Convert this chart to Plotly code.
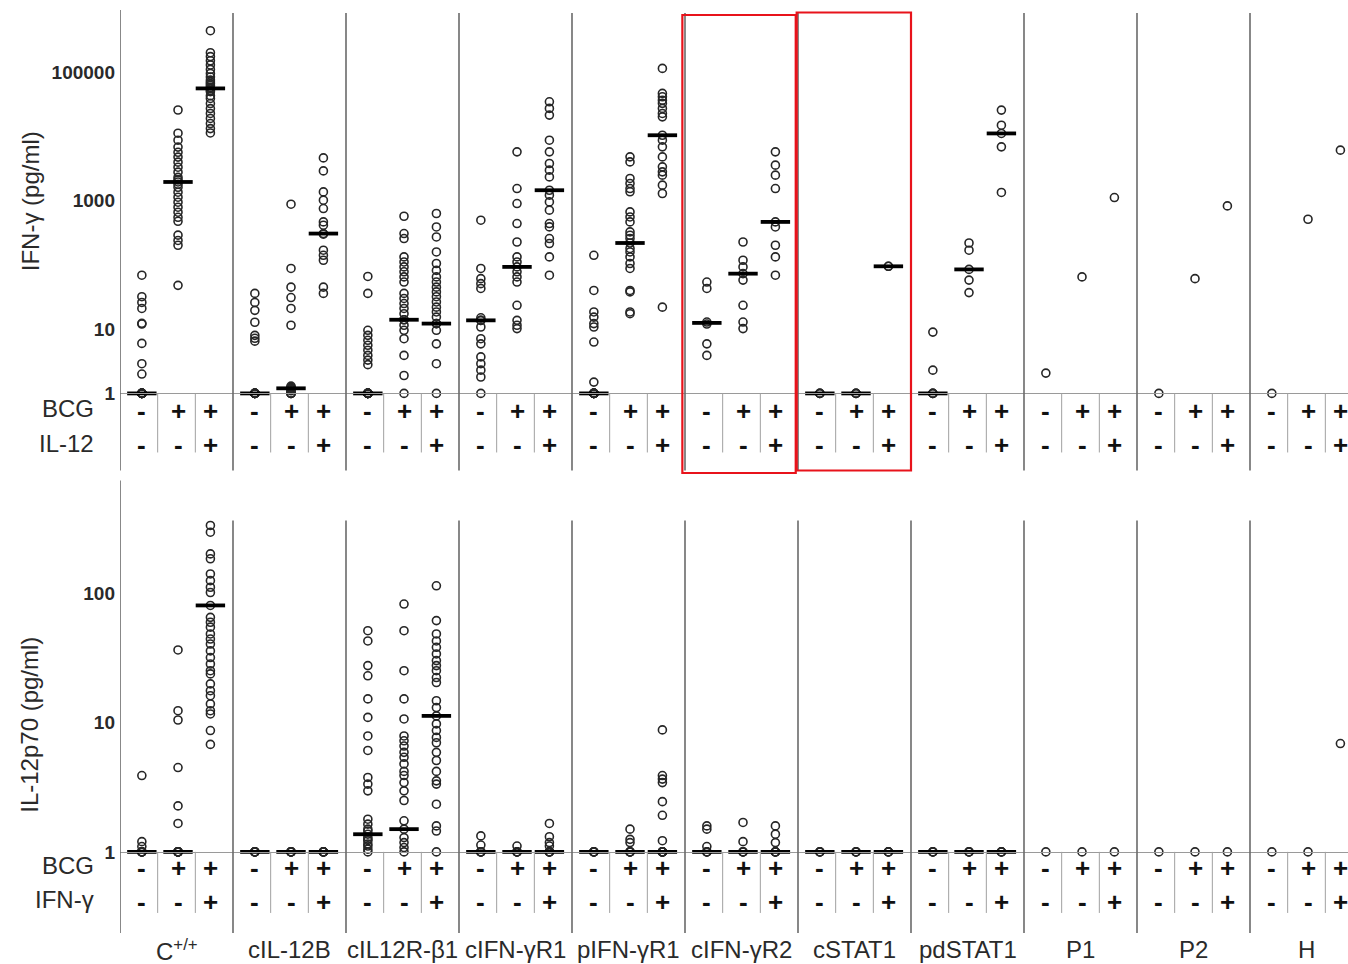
import plotly.graph_objects as go

# ---------------- data ----------------
GROUPS = ["C<sup>+/+</sup>", "cIL-12B", "cIL12R-β1", "cIFN-γR1", "pIFN-γR1",
          "cIFN-γR2", "cSTAT1", "pdSTAT1", "P1", "P2", "H"]
BCG_SIGNS = ["-", "+", "+"]
COSTIM_SIGNS = ["-", "-", "+"]

# IFN-gamma (pg/ml); per group: [unstimulated, BCG, BCG + IL-12]
ifng_cwt = [[69, 32, 26, 21, 12.3, 12, 6.0, 2.9, 2.0, 1, 1, 1, 1, 1, 1, 1, 1, 1, 1],
            [25700, 11200, 8700, 6800, 5650, 4750, 3970, 3310, 2770, 2300, 2100, 1950, 1800,
             1610, 1350, 1130, 944, 790, 660, 550, 477, 290, 240, 202, 48],
            [440000, 200000, 174000, 150000, 129000, 110000, 95000, 84000, 75000, 70000, 66000,
             62000, 58000, 55700, 52000, 49500, 43000, 38900, 32400, 27000, 22700, 19000, 15800,
             13200, 11300]]
ifng_cil12b = [[36, 26, 19.6, 12.8, 8, 7.2, 6.5, 1, 1, 1, 1, 1, 1, 1, 1],
               [880, 88, 45, 31, 21, 11.5, 1.3, 1.25, 1.2, 1.2, 1.15, 1.1, 1, 1, 1, 1],
               [4620, 2900, 1365, 1015, 753, 466, 414, 307, 300, 169, 141, 118, 45, 36]]
ifng_cil12rb1 = [[66, 36, 9.6, 8.0, 6.7, 5.6, 4.7, 3.9, 3.3, 2.8, 1, 1, 1, 1, 1, 1, 1, 1, 1, 1, 1],
                 [571, 307, 257, 133, 111, 93, 78, 65, 54, 36, 30, 25, 21, 17.4, 14, 14, 11.5,
                  9.6, 7.1, 3.9, 1.9, 1],
                 [630, 389, 272, 159, 105, 82, 65, 54, 45, 38, 32, 26.5, 22, 18.5, 15.4, 12.2,
                  12.2, 9.6, 5.9, 2.9, 1]]
ifng_cifngr1 = [[495, 88, 61, 51, 43, 15, 13.7, 13.7, 10.8, 7.1, 5.9, 3.7, 2.9, 2.3, 1.8, 1],
                [5740, 1540, 900, 440, 227, 133, 111, 93, 78, 65, 54, 23.5, 13.7, 11.5, 10.2],
                [34500, 27200, 21400, 8700, 5740, 3780, 2980, 2340, 1450, 1213, 955, 710, 440,
                 390, 257, 215, 133, 69]]
ifng_pifngr1 = [[141, 40, 18.5, 15.4, 12.2, 10.8, 6.3, 1.5, 1, 1, 1, 1, 1, 1, 1, 1, 1],
                [4800, 4000, 2210, 1845, 1540, 1370, 667, 557, 466, 326, 289, 257, 219, 180,
                 159, 133, 105, 88, 40, 38, 18.5, 17.4],
                [114000, 46600, 41200, 36500, 32600, 27200, 22700, 20100, 10400, 8700, 6860,
                 4790, 3350, 2800, 2490, 1740, 1290, 22]]
ifng_cifngr2 = [[54, 43, 12.9, 12, 5.9, 3.9],
                [227, 118, 93, 73, 58, 23.5, 12.9, 10.2],
                [5740, 3560, 2490, 1540, 466, 389, 202, 133, 69]]
ifng_cstat1 = [[1, 1, 1], [1, 1, 1], [95, 95]]
ifng_pdstat1 = [[9.0, 2.3, 1, 1, 1], [219, 169, 85, 58, 37], [25600, 14900, 11100, 6860, 1340]]
ifng_p1 = [[2.07], [65], [1117]]
ifng_p2 = [[1], [61], [828]]
ifng_h = [[1], [513], [6100]]

ifng_medians = [[1, 1950, 55700], [1, 1.2, 307], [1, 14, 12.2], [13.7, 93, 1450],
                [1, 219, 10400], [12.5, 73, 466], [1, 1, 95], [1, 85, 11100],
                None, None, None]

# IL-12p70 (pg/ml); per group: [unstimulated, BCG, BCG + IFN-gamma]
il12_cwt = [[3.9, 1.2, 1.1, 1, 1, 1, 1, 1],
            [36.6, 12.4, 10.5, 4.5, 2.27, 1.66, 1, 1, 1, 1, 1, 1, 1],
            [337, 299, 203, 186, 142, 126, 112, 102, 81, 65.5, 60, 55, 48.7, 44.5, 40.7, 36, 32,
             28.5, 25.3, 23.9, 20, 17.7, 16.2, 14, 12.4, 11.7, 8.7, 6.8]]
il12_cil12b = [[1, 1, 1, 1, 1], [1, 1, 1, 1, 1], [1, 1, 1, 1, 1]]
il12_cil12rb1 = [[51.6, 43, 27.7, 23.1, 15.3, 11, 7.9, 6.1, 3.77, 3.35, 2.97, 1.79, 1.64, 1.5,
                  1.45, 1.37, 1.3, 1.25, 1.22, 1.15, 1.11, 1.05, 1],
                 [83, 51.6, 25.3, 15.3, 10.7, 7.9, 7.25, 6.6, 5.9, 5.4, 4.8, 4.2, 3.9, 3.44, 2.97,
                  2.5, 1.74, 1.5, 1.29, 1.18, 1.08, 1],
                 [115, 61.8, 48.7, 43, 38.4, 34.1, 30.3, 27.7, 25.3, 22.4, 20.5, 14.8, 13.1, 11.3,
                  9.8, 8.7, 7.7, 7.0, 5.9, 5.1, 4.2, 3.55, 3.35, 2.34, 1.59, 1.45, 1]]
il12_cifngr1 = [[1.33, 1.13, 1, 1, 1, 1], [1.11, 1, 1, 1, 1], [1.66, 1.31, 1.18, 1.11, 1, 1, 1, 1]]
il12_pifngr1 = [[1, 1, 1, 1], [1.5, 1.25, 1.18, 1, 1, 1, 1],
                [8.8, 3.9, 3.66, 3.44, 2.45, 1.92, 1.22, 1, 1, 1, 1, 1, 1, 1]]
il12_cifngr2 = [[1.59, 1.5, 1.1, 1, 1, 1], [1.69, 1.2, 1, 1, 1], [1.59, 1.37, 1.18, 1, 1, 1, 1]]
il12_cstat1 = [[1, 1, 1], [1, 1, 1], [1, 1, 1]]
il12_pdstat1 = [[1, 1, 1], [1, 1, 1], [1, 1, 1]]
il12_p1 = [[1], [1], [1]]
il12_p2 = [[1], [1], [1]]
il12_h = [[1], [1], [6.9]]

il12_medians = [[1, 1, 81], [1, 1, 1], [1.37, 1.5, 11.3], [1, 1, 1], [1, 1, 1], [1, 1, 1],
                [1, 1, 1], [1, 1, 1], None, None, None]

IFNG = [ifng_cwt, ifng_cil12b, ifng_cil12rb1, ifng_cifngr1, ifng_pifngr1, ifng_cifngr2,
        ifng_cstat1, ifng_pdstat1, ifng_p1, ifng_p2, ifng_h]
IL12 = [il12_cwt, il12_cil12b, il12_cil12rb1, il12_cifngr1, il12_pifngr1, il12_cifngr2,
        il12_cstat1, il12_pdstat1, il12_p1, il12_p2, il12_h]

# ---------------- layout constants ----------------
W = 1348
H_REF = 964                      # height of the reference picture
H_FIG = 976                      # rendered height (photo is rescaled to the reference height)
GW = 3.0                         # data width of one group
COL_OFF = [0.58, 1.54, 2.40]     # column positions inside a group
X_LEFT_PX = 120
GROUP_PX = 113
X_MAX = (W - X_LEFT_PX) / GROUP_PX * GW

FONT = "Liberation Sans, Arial, Helvetica, sans-serif"
TXT = "#2a2a2a"


def py(px):
    """reference pixel row -> paper fraction"""
    return 1 - px / H_REF


def pxx(px):
    """reference pixel column -> paper fraction"""
    return px / W


fig = go.Figure()


def add_panel(groups, medians, xa, ya):
    xs, ys, mx, my = [], [], [], []
    for g, cols in enumerate(groups):
        for c, vals in enumerate(cols):
            xs += [g * GW + COL_OFF[c]] * len(vals)
            ys += vals
        if medians[g] is not None:
            for c, m in enumerate(medians[g]):
                mx.append(g * GW + COL_OFF[c])
                my.append(m)
    fig.add_trace(go.Scatter(
        x=xs, y=ys, mode="markers", xaxis=xa, yaxis=ya, cliponaxis=False,
        marker=dict(symbol="circle-open", size=8, color="#262626",
                    line=dict(width=1.6, color="#262626")),
        showlegend=False, hoverinfo="y"))
    fig.add_trace(go.Scatter(
        x=mx, y=my, mode="markers", xaxis=xa, yaxis=ya, cliponaxis=False,
        marker=dict(symbol="line-ew", size=21, color="#000",
                    line=dict(width=3.8, color="#000")),
        showlegend=False, hoverinfo="y"))


add_panel(IFNG, ifng_medians, "x", "y")
add_panel(IL12, il12_medians, "x2", "y2")

axis_x = dict(range=[0, X_MAX], domain=[pxx(X_LEFT_PX), 1], showgrid=False, zeroline=False,
              showticklabels=False, ticks="", showline=True, linecolor="#9a9a9a", linewidth=1)
tickfont = dict(family=FONT, size=19, color=TXT, weight="bold")
fig.update_layout(
    width=W, height=H_FIG, margin=dict(l=0, r=0, t=0, b=0),
    paper_bgcolor="white", plot_bgcolor="white",
    font=dict(family=FONT, color=TXT),
    xaxis=dict(axis_x, anchor="y"),
    xaxis2=dict(axis_x, anchor="y2"),
    yaxis=dict(type="log", domain=[py(393), py(10)], range=[0, (393 - 10) / 64.2],
               tickvals=[1, 10, 1000, 100000], ticktext=["1", "10", "1000", "100000"],
               tickfont=tickfont, showgrid=False, zeroline=False, showline=False,
               ticks="", ticklabelstandoff=4, anchor="x"),
    yaxis2=dict(type="log", domain=[py(851), py(482)], range=[0, (851 - 482) / 129.0],
                tickvals=[1, 10, 100], ticktext=["1", "10", "100"],
                tickfont=tickfont, showgrid=False, zeroline=False, showline=False,
                ticks="", ticklabelstandoff=4, anchor="x2"),
)

shapes = []
ng = len(GROUPS)
div_col = "#6a6a6a"
sub_col = "#a0a0a0"
for g in range(ng):
    xg = g * GW
    # group dividers
    shapes.append(dict(type="line", xref="x", yref="paper", x0=xg, x1=xg,
                       y0=py(470), y1=py(10 if g == 0 else 13),
                       line=dict(color=div_col, width=1.6)))
    shapes.append(dict(type="line", xref="x2", yref="paper", x0=xg, x1=xg,
                       y0=py(932), y1=py(480 if g == 0 else 520),
                       line=dict(color=div_col, width=1.6)))
    # column sub-dividers in the sign rows
    for k in (1, 2):
        shapes.append(dict(type="line", xref="x", yref="paper", x0=xg + k, x1=xg + k,
                           y0=py(393), y1=py(452), line=dict(color=sub_col, width=1)))
        shapes.append(dict(type="line", xref="x2", yref="paper", x0=xg + k, x1=xg + k,
                           y0=py(851), y1=py(912), line=dict(color=sub_col, width=1)))

# red highlight boxes around cIFN-γR2 and cSTAT1 (top panel)
RED = "#e8131b"
shapes.append(dict(type="rect", xref="x", yref="paper", x0=5 * GW - 0.07, x1=6 * GW - 0.06,
                   y0=py(472.5), y1=py(15), line=dict(color=RED, width=2.2)))
shapes.append(dict(type="rect", xref="x", yref="paper", x0=6 * GW - 0.035, x1=7 * GW,
                   y0=py(470), y1=py(12.5), line=dict(color=RED, width=2.2)))
fig.update_layout(shapes=shapes)

ann = []
sign_font = dict(family=FONT, size=26, color="#111", weight="bold")
for g in range(ng):
    for c in range(3):
        xc = g * GW + COL_OFF[c]
        for xr, yy, txt in (("x", 411, BCG_SIGNS[c]), ("x", 445, COSTIM_SIGNS[c]),
                            ("x2", 867, BCG_SIGNS[c]), ("x2", 901, COSTIM_SIGNS[c])):
            ann.append(dict(x=xc, y=py(yy), xref=xr, yref="paper", text=txt,
                            xanchor="center", yanchor="middle",
                            showarrow=False, font=sign_font))
    ann.append(dict(x=g * GW + GW / 2, y=py(949), xref="x2", yref="paper", text=GROUPS[g],
                    xanchor="center", yanchor="middle",
                    showarrow=False, font=dict(family=FONT, size=24, color=TXT)))

label_font = dict(family=FONT, size=24, color=TXT)
for txt, yy in (("BCG", 408), ("IL-12", 443), ("BCG", 865), ("IFN-γ", 899)):
    ann.append(dict(x=pxx(96), y=py(yy), xref="paper", yref="paper", text=txt,
                    xanchor="right", yanchor="middle", showarrow=False, font=label_font))
ann.append(dict(x=pxx(30), y=py(201), xref="paper", yref="paper", text="IFN-γ (pg/ml)",
                xanchor="center", yanchor="middle",
                textangle=-90, showarrow=False, font=label_font))
ann.append(dict(x=pxx(30), y=py(724), xref="paper", yref="paper", text="IL-12p70 (pg/ml)",
                xanchor="center", yanchor="middle",
                textangle=-90, showarrow=False, font=label_font))
fig.update_layout(annotations=ann)

# remove the default page margin so the figure starts at the window corner
POST = ("document.documentElement.style.margin='0';"
        "document.body.style.margin='0';")
fig.write_html("out.html", config={"displayModeBar": False}, post_script=POST)
